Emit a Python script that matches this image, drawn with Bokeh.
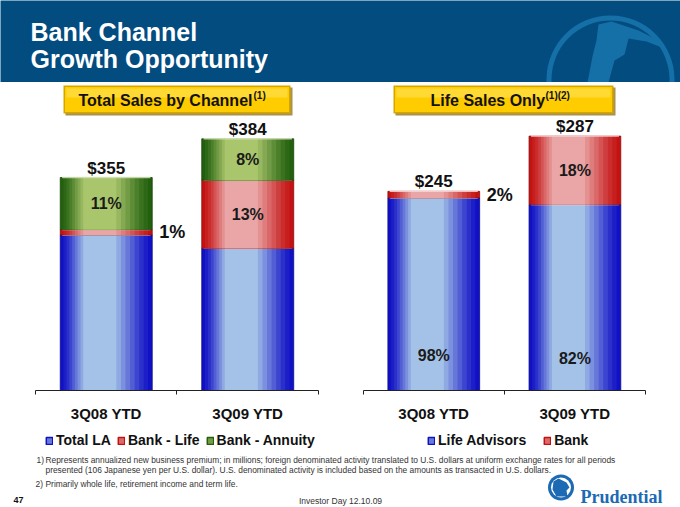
from bokeh.plotting import figure
from bokeh.layouts import column, row
from bokeh.models import Range1d, FixedTicker, Legend, LegendItem, ColumnDataSource
from bokeh.core.properties import value
from bokeh.embed import file_html
from bokeh.resources import INLINE

FONT = "Liberation Sans"
NAN = float("nan")

# ---------------- data ----------------
periods = ["3Q08 YTD", "3Q09 YTD"]

# Total sales by channel ($ millions)
total_la = [312, 302]
bank_life = [4, 51]
bank_annuity = [39, 31]
total_sales_labels = ["$355", "$384"]
pct_total_la = ["88%", "79%"]
pct_bank_life = ["1%", "13%"]
pct_bank_annuity = ["11%", "8%"]

# Life sales only ($ millions)
life_advisors = [240, 235]
life_bank = [5, 52]
life_sales_labels = ["$245", "$287"]
pct_life_advisors = ["98%", "82%"]
pct_life_bank = ["2%", "18%"]

footnote_1a = ("Represents annualized new business premium; in millions; foreign denominated activity "
               "translated to U.S. dollars at uniform exchange rates for all periods")
footnote_1b = ("presented (106 Japanese yen per U.S. dollar). U.S. denominated activity is included "
               "based on the  amounts as transacted in U.S. dollars.")
footnote_2 = "Primarily whole life, retirement  income and term life."

# ---------------- styles ----------------
BLUE = ("#1010C4", "#A4C2E8")
RED = ("#C41212", "#EAA6A6")
GREEN = ("#22600E", "#AAC66C")
LAYERS = [(1.00, 0.0), (0.92, 0.08), (0.84, 0.18), (0.76, 0.30), (0.68, 0.44),
          (0.60, 0.58), (0.52, 0.72), (0.44, 0.86), (0.36, 1.0)]
BAR_W = 0.65
CENTERS = [0.5, 1.5]


def mix(c1, c2, t):
    a = [int(c1[i:i + 2], 16) for i in (1, 3, 5)]
    b = [int(c2[i:i + 2], 16) for i in (1, 3, 5)]
    return "#%02x%02x%02x" % tuple(round(a[k] + (b[k] - a[k]) * t) for k in range(3))


def plain_fig(width, height, xr, yr, bg="white"):
    f = figure(width=width, height=height, x_range=Range1d(*xr), y_range=Range1d(*yr),
               output_backend="svg", toolbar_location=None, tools="", x_axis_location=None,
               y_axis_location=None, min_border=0, background_fill_color=bg,
               border_fill_color=bg)
    f.xgrid.visible = False
    f.ygrid.visible = False
    f.outline_line_color = None
    return f


def make_chart(series, x_range, y_range, total_labels, legend_spacing, legend_loc):
    p = figure(width=340, height=306, x_range=Range1d(*x_range), y_range=Range1d(*y_range),
               output_backend="svg", toolbar_location=None, tools="", y_axis_location=None,
               min_border=0, min_border_bottom=32, background_fill_color="white",
               border_fill_color="white")
    p.xgrid.visible = False
    p.ygrid.visible = False
    p.outline_line_color = None
    lg = plain_fig(340, 32, (0, 1), (0, 1))

    bottoms = [0, 0]
    grand = [sum(s[0][i] for s in series) for i in range(2)]
    items = []
    for vals, (edge, light), name, pcts in series:
        tops = [b + v for b, v in zip(bottoms, vals)]
        for k, (f, t) in enumerate(LAYERS):
            src = ColumnDataSource(dict(x=[c - 0.07 * BAR_W * t for c in CENTERS],
                                        top=tops, bottom=bottoms))
            p.vbar(x="x", top="top", bottom="bottom", width=BAR_W * f, source=src,
                   fill_color=mix(edge, light, t),
                   line_color=mix(edge, "#000000", 0.3) if k == 0 else None,
                   line_width=0.8)
        # glossy highlight at segment top
        p.segment(x0=[c - BAR_W * 0.48 for c in CENTERS], x1=[c + BAR_W * 0.48 for c in CENTERS],
                  y0=tops, y1=tops, line_color=mix(light, "#ffffff", 0.55),
                  line_width=1.5, line_alpha=0.85)
        # legend key (no visible mark in the legend strip itself)
        key = lg.vbar(x=[NAN], top=[NAN], bottom=[NAN], width=0.1,
                      fill_color=mix(edge, light, 0.6), line_color=edge, line_width=1.5)
        items.append(LegendItem(label=name, renderers=[key]))
        mids = [b + v / 2 for b, v in zip(bottoms, vals)]
        share = [v / g for v, g in zip(vals, grand)]
        inside = [i for i in range(2) if share[i] >= 0.05]
        outside = [i for i in range(2) if share[i] < 0.05]
        if inside:
            p.text(x=[CENTERS[i] for i in inside], y=[mids[i] for i in inside],
                   text=[pcts[i] for i in inside], text_align="center", text_baseline="middle",
                   text_font=value(FONT), text_font_size="16px", text_font_style="bold",
                   text_color="#1a1a1a")
        if outside:
            p.text(x=[CENTERS[i] + BAR_W / 2 for i in outside], y=[mids[i] for i in outside],
                   text=[pcts[i] for i in outside], x_offset=7, text_align="left",
                   text_baseline="middle", text_font=value(FONT), text_font_size="18px",
                   text_font_style="bold", text_color="#111111")
        bottoms = tops

    p.text(x=CENTERS, y=bottoms, text=total_labels, text_align="center", text_baseline="bottom",
           text_font=value(FONT), text_font_size="17px", text_font_style="bold",
           text_color="#111111")
    ax = p.xaxis[0]
    ax.ticker = FixedTicker(ticks=CENTERS, minor_ticks=[0, 1, 2])
    ax.major_label_overrides = {CENTERS[0]: periods[0], CENTERS[1]: periods[1]}
    ax.bounds = (0, 2)
    ax.major_tick_line_color = None
    ax.major_tick_in = 0
    ax.major_tick_out = 0
    ax.minor_tick_in = 0
    ax.minor_tick_out = 4
    ax.minor_tick_line_color = "#222222"
    ax.axis_line_color = "#222222"
    ax.major_label_standoff = 10
    ax.major_label_text_font = FONT
    ax.major_label_text_font_size = "15px"
    ax.major_label_text_font_style = "bold"
    ax.major_label_text_color = "#111111"

    legend = Legend(items=items, orientation="horizontal", location=legend_loc, margin=0,
                    padding=0, spacing=legend_spacing, label_standoff=3, glyph_width=8,
                    glyph_height=9, label_height=18, label_text_font=FONT,
                    label_text_font_size="14px", label_text_font_style="bold",
                    label_text_color="#111111", border_line_color=None,
                    background_fill_alpha=0)
    lg.add_layout(legend)
    return p, lg


# ---------------- header ----------------
hp = plain_fig(680, 82, (0, 680), (82, 0), bg="#034C80")
hp.annulus(x=[610], y=[79], inner_radius=59, outer_radius=64, fill_color="#1670A8",
           line_color=None)
hp.patch(x=[598, 611, 638, 662, 664, 646, 628, 624, 614, 608, 587, 592, 596],
         y=[24, 21, 30, 42, 48, 41, 38, 54, 60, 82, 82, 56, 40],
         fill_color="#1670A8", line_color=None)
hp.text(x=[30, 30], y=[31, 58.5], text=["Bank Channel", "Growth Opportunity"],
        text_font=value(FONT), text_font_size="25px", text_font_style="bold",
        text_color="white", text_baseline="middle")


# ---------------- title boxes ----------------
def title_box(xr, left, right, main, sup, tx, sx):
    tp = plain_fig(340, 36, xr, (118, 82))
    tp.quad(left=[left + 2], right=[right + 2], top=[87], bottom=[115], fill_color="#A8924E",
            line_color=None)
    tp.quad(left=[left], right=[right], top=[85], bottom=[113], fill_color="#D6A600",
            line_color=None)
    tp.quad(left=[left + 1.5], right=[right - 1.5], top=[86.5], bottom=[111.5],
            fill_color="#FFCC00", line_color=None)
    tp.quad(left=[left + 3], right=[right - 3], top=[88], bottom=[97],
            fill_color="#FFD934", line_color=None)
    tp.text(x=[tx], y=[99.5], text=[main], text_font=value(FONT), text_font_size="16px",
            text_font_style="bold", text_color="#111111", text_baseline="middle")
    tp.text(x=[sx], y=[95], text=[sup], text_font=value(FONT), text_font_size="10px",
            text_font_style="bold", text_color="#111111", text_baseline="middle")
    return tp


tl = title_box((0, 340), 63, 290, "Total Sales by Channel", "(1)", 78, 253)
tr = title_box((340, 680), 393, 613, "Life Sales Only", "(1)(2)", 430, 545)

# ---------------- charts ----------------
cl, ll = make_chart(
    [(total_la, BLUE, "Total LA", pct_total_la),
     (bank_life, RED, "Bank - Life", pct_bank_life),
     (bank_annuity, GREEN, "Bank - Annuity", pct_bank_annuity)],
    (-0.2473, 2.1555), (195.5, 399.2), total_sales_labels, 6, (45, 7))

cr, lr = make_chart(
    [(life_advisors, BLUE, "Life Advisors", pct_life_advisors),
     (life_bank, RED, "Bank", pct_life_bank)],
    (-0.1608, 2.248), (93.5, 300.4), life_sales_labels, 17, (87, 7))

# ---------------- footer ----------------
fp = plain_fig(680, 51, (0, 680), (507, 456))
fp.text(x=[36, 45, 45, 35, 45], y=[459.5, 459.5, 469.5, 483.5, 483.5],
        text=["1)", footnote_1a, footnote_1b, "2)", footnote_2],
        text_font=value(FONT), text_font_size="8.4px", text_color="#333333",
        text_baseline="middle")
fp.text(x=[13], y=[499], text=["47"], text_font=value(FONT), text_font_size="9px",
        text_font_style="bold", text_color="#111111", text_baseline="middle")
fp.text(x=[340], y=[500], text=["Investor Day 12.10.09"], text_font=value(FONT),
        text_font_size="8.5px", text_color="#333333", text_baseline="middle",
        text_align="center")
fp.scatter(x=[560.5], y=[487], size=26, marker="circle", fill_color="#1C6AB3",
           line_color=None)
fp.scatter(x=[560.5], y=[487], size=20, marker="circle", fill_color="white",
           line_color=None)
fp.patch(x=[553, 558, 566, 569, 566, 567, 556, 552], y=[481, 478, 482, 487, 490, 496, 496, 489],
         fill_color="#1C6AB3", line_color=None)
fp.text(x=[580], y=[496], text=["Prudential"], text_font=value("Liberation Serif"),
        text_font_size="18px", text_font_style="bold", text_color="#1C6AB3",
        text_baseline="alphabetic")

layout = column(hp, row(tl, tr), row(cl, cr), row(ll, lr), fp)
open("out.html", "w").write(file_html(layout, INLINE))
